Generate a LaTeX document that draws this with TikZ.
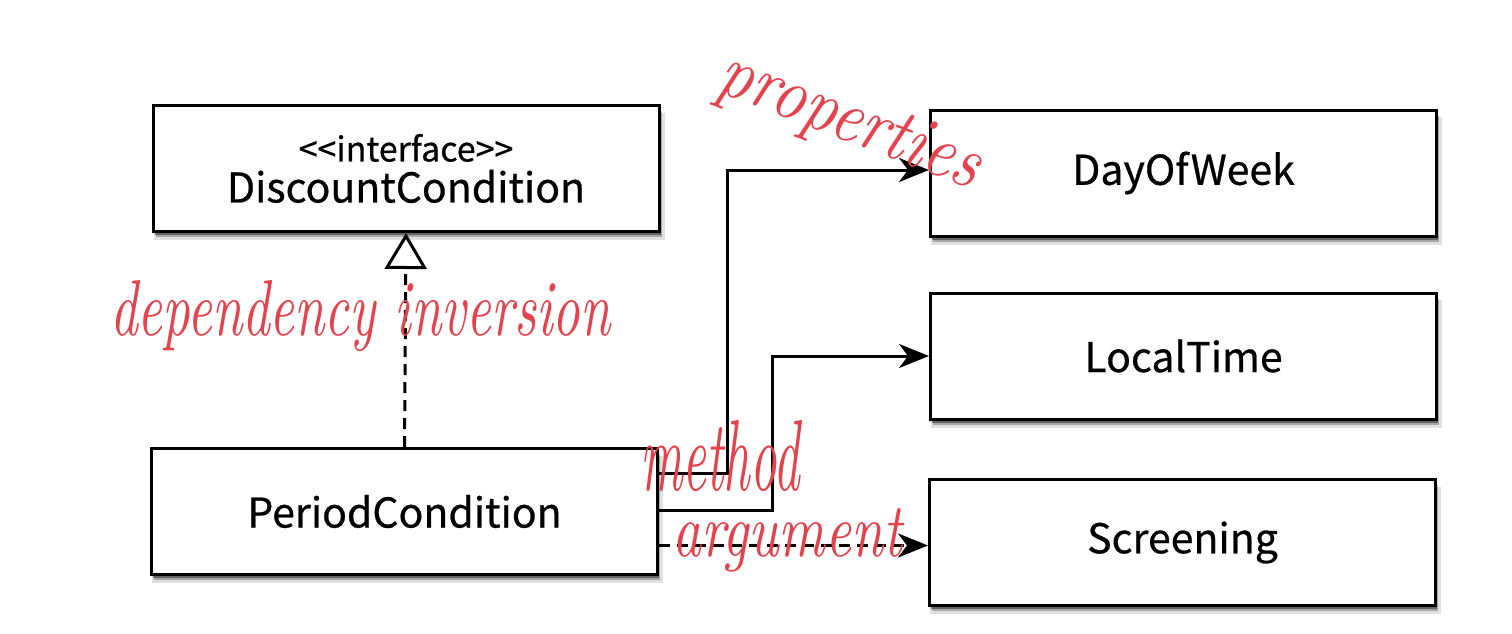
\documentclass[tikz,border=0pt]{standalone}
\usepackage{fontspec}
\setmainfont{Noto Sans CJK KR}[FakeBold=0.6]
\newfontfamily\handfont{lmroman10-italic.otf}
\usetikzlibrary{shadows,arrows.meta}
\definecolor{redink}{RGB}{228,66,76}
\begin{document}
\begin{tikzpicture}[x=1pt,y=-1pt,
  cls/.style={draw=black, line width=3pt, fill=white,
    minimum width=506pt, minimum height=126pt, inner sep=0pt,
    font=\fontsize{41}{47}\selectfont, align=center,
    drop shadow={shadow xshift=3pt, shadow yshift=-8pt, opacity=0.12, fill=black, shadow scale=1.01},
    drop shadow={shadow xshift=2.5pt, shadow yshift=-5.5pt, opacity=0.25, fill=black},
    drop shadow={shadow xshift=1.5pt, shadow yshift=-3.5pt, opacity=0.4, fill=black}},
  conn/.style={line width=3pt, -{Stealth[length=30pt, width=24pt, inset=9pt]}},
  dashpat/.style={dash pattern=on 11pt off 7pt},
  real/.style={line width=3pt, dashpat, -{Triangle[open, length=36pt, width=42pt, line width=3pt]}},
  hand/.style={text=redink, inner sep=0pt, font=\handfont}
]
\useasboundingbox (0,0) rectangle (1512,634);
\fill[white] (0,0) rectangle (1512,634);

\node[cls] (dc) at (406,168.5) {{\fontsize{34}{38}\selectfont <{}<interface>{}>}\\[-6pt]DiscountCondition};
\node[cls] (pc) at (404.5,511.5) {PeriodCondition};
\node[cls] (dow) at (1183.5,173) {DayOfWeek};
\node[cls] (lt) at (1183.5,356) {LocalTime};
\node[cls] (sc) at (1182.5,542.5) {Screening};

\draw[real] (pc.north) -- (dc.south);
\draw[conn] ([yshift=38pt]pc.east) -- ++(68,0) |- ([yshift=3pt]dow.west);
\draw[conn] ([yshift=1pt]pc.east) -- ++(113,0) |- (lt.west);
\draw[conn, dashpat] ([yshift=-34pt]pc.east) -- ([yshift=-3pt]sc.west);

\node[hand, anchor=base west] (n1) at (110,335) {\resizebox{500pt}{55pt}{dependency inversion}};
\node[hand, anchor=base west, rotate=-21] (n2) at (714,90) {\resizebox{275pt}{50pt}{properties}};
\node[hand, anchor=base west] (n3) at (640,490) {\resizebox{160pt}{70pt}{method}};
\node[hand, anchor=base west] (n4) at (672,556) {\resizebox{230pt}{48pt}{argument}};
\end{tikzpicture}
\end{document}
